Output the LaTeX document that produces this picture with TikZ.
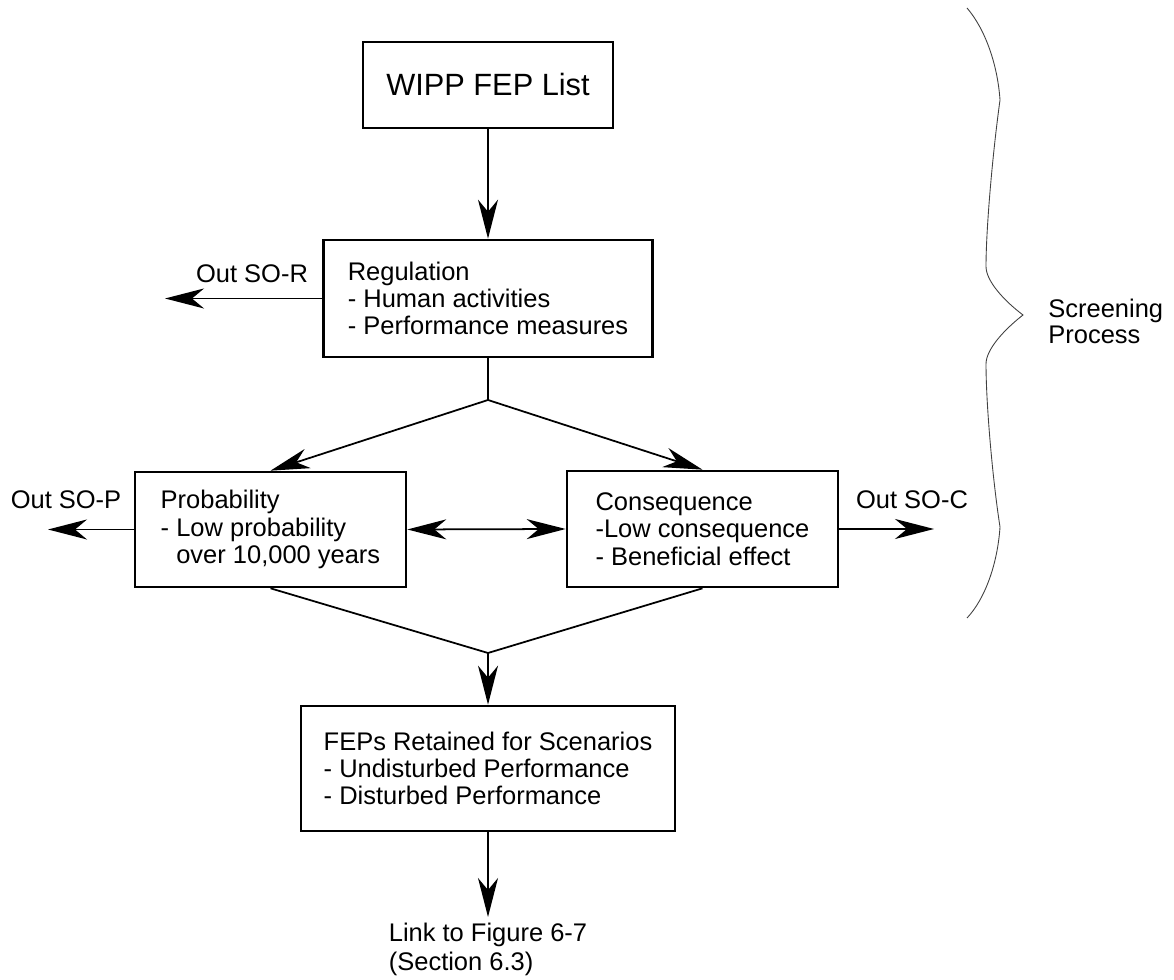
\documentclass[tikz,border=0pt]{standalone}
\usepackage{fontspec}
\setmainfont{Liberation Sans}
\usetikzlibrary{arrows.meta}

\begin{document}
\begin{tikzpicture}[
    >={Stealth[length=7.8mm, width=4mm, inset=2.4mm]},
    txt/.style={font=\fontsize{14.5}{15.5}\selectfont},
    box/.style={txt, draw, line width=1.5pt, align=left},
    conn/.style={line width=1pt},
    lbl/.style={txt, inner sep=0pt}
  ]
    \useasboundingbox (0,0) rectangle (23.48,19.58);

    \node[box, font=\fontsize{17.5}{20}\selectfont, minimum width=5cm, minimum height=1.72cm] (list) at (9.76,17.88) {WIPP FEP List};
    \node[box, minimum width=6.58cm, minimum height=2.34cm] (reg) at (9.76,13.61) {Regulation\\- Human activities\\- Performance measures};
    \node[box, minimum width=5.42cm, minimum height=2.3cm] (prob) at (5.41,8.99) {Probability\\- Low probability\\\hphantom{- }over 10,000 years};
    \node[box, minimum width=5.42cm, minimum height=2.32cm] (cons) at (14.05,9.0) {Consequence\\-Low consequence\\- Beneficial effect};
    \node[box, minimum width=7.48cm, minimum height=2.5cm] (feps) at (9.76,4.21) {FEPs Retained for Scenarios\\- Undisturbed Performance\\- Disturbed Performance};

    \node[lbl] (soR) at (5.04,14.1) {Out SO-R};
    \node[lbl] (soP) at (1.32,9.58) {Out SO-P};
    \node[lbl] (soC) at (18.24,9.58) {Out SO-C};
    \node[lbl, font=\fontsize{14.5}{17}\selectfont, align=left, anchor=north, inner ysep=3pt] (link) at (9.76,1.24) {Link to Figure 6-7\\(Section 6.3)};
    \node[lbl, font=\fontsize{14.5}{14.5}\selectfont, align=left, anchor=west] (screen) at (20.96,13.15) {Screening\\Process};

    \coordinate (split) at (9.76,11.58);
    \coordinate (merge) at (9.76,6.52);
    \coordinate (outR) at (3.3,13.56);
    \coordinate (outP) at (0.96,9.06);
    \coordinate (outC) at (18.68,9.06);

    \draw[conn, ->] (list.south) -- (list.south |- reg.north);
    \draw[conn] (reg.south) -- (split);
    \draw[conn, ->] (split) -- (prob.north);
    \draw[conn, ->] (split) -- (cons.north);
    \draw[conn, <->] (prob.east) -- (cons.west);
    \draw[conn] (prob.south) -- (merge) -- (cons.south);
    \draw[conn, ->] (merge) -- (merge |- feps.north);
    \draw[conn, ->] (feps.south) -- (feps.south |- link.north);

    \draw[conn, ->] (reg.west) -- (reg.west -| outR);
    \draw[conn, ->] (prob.west) -- (prob.west -| outP);
    \draw[conn, ->] (cons.east) -- (cons.east -| outC);

    \draw[line width=0.5pt, black!75] (19.34,19.42) .. controls (19.7,19.0) and (19.95,18.3) .. (20.0,17.58)
      .. controls (19.85,16.5) and (19.72,15.0) .. (19.72,14.25)
      .. controls (19.72,13.95) and (20.1,13.55) .. (20.46,13.28)
      .. controls (20.1,13.0) and (19.72,12.6) .. (19.72,12.3)
      .. controls (19.72,11.5) and (19.85,10.0) .. (20.0,9.04)
      .. controls (19.95,8.3) and (19.7,7.6) .. (19.34,7.22);
  \end{tikzpicture}
\end{document}
